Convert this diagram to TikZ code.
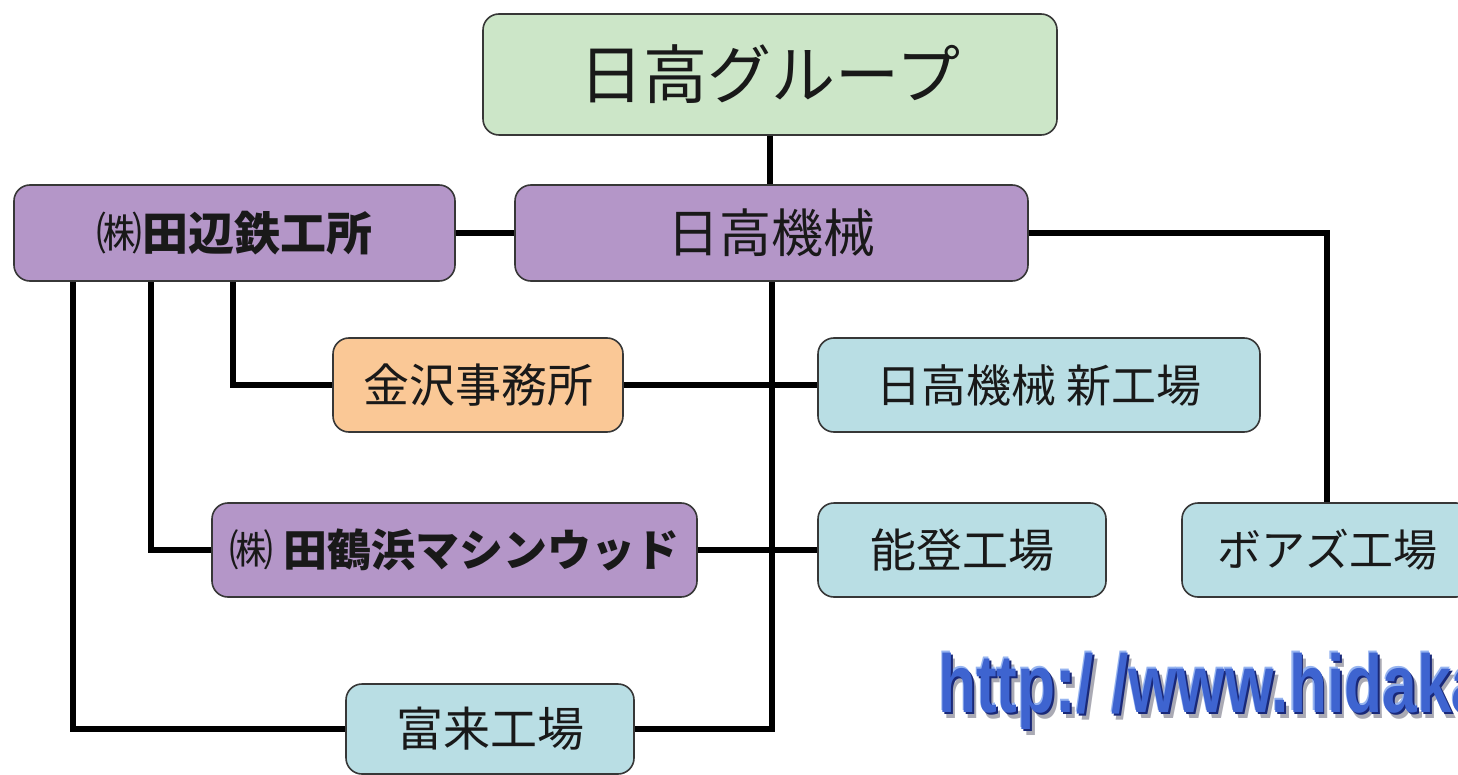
\documentclass[tikz,border=0pt]{standalone}
\usepackage{fontspec}
\setmainfont{Noto Sans CJK JP}
\newfontfamily\urlfont{Liberation Sans}
\usetikzlibrary{backgrounds}
\definecolor{grpfill}{RGB}{204,230,200}
\definecolor{purfill}{RGB}{180,150,200}
\definecolor{orgfill}{RGB}{250,200,150}
\definecolor{bluefill}{RGB}{185,222,228}
\definecolor{boxline}{RGB}{55,55,55}
\definecolor{urlblue}{RGB}{62,100,208}
\definecolor{urldark}{RGB}{25,40,120}
\definecolor{urllight}{RGB}{150,180,240}
\definecolor{urlshadow}{RGB}{170,170,180}
\newcommand{\urlstr}{http:/ /www.hidaka}
\newcommand{\layer}[4]{\makebox[0pt][l]{\hspace*{#1pt}\raisebox{#2pt}{\textcolor{#3}{#4}}}}
\begin{document}
\begin{tikzpicture}[x=1pt,y=-1pt,
  box/.style={draw=boxline, line width=1.6pt, rounded corners=16pt, inner sep=0pt, align=center, text=black!90},
  conn/.style={line width=6pt, black},
  jp/.style={font=\fontsize{#1}{#1}\selectfont},
  urltxt/.style={font=\urlfont\bfseries\fontsize{82}{82}\selectfont, xscale=0.76, anchor=base west, inner sep=0pt}]
\useasboundingbox (0,0) rectangle (1458,775);

\node[box, fill=grpfill, minimum width=574pt, minimum height=121pt, jp=64] (grp) at (770,74.5) {日高グループ};
\node[box, fill=purfill, minimum width=513pt, minimum height=96pt, jp=52] (kikai) at (771.5,233) {日高機械};
\node[box, fill=purfill, minimum width=441pt, minimum height=96pt, jp=46] (tanabe) at (234.5,233) {㈱\textbf{田辺鉄工所}};
\node[box, fill=orgfill, minimum width=290pt, minimum height=94pt, jp=46] (kanazawa) at (478,385) {金沢事務所};
\node[box, fill=bluefill, minimum width=442pt, minimum height=94pt, jp=45] (shin) at (1039,385) {日高機械 新工場};
\node[box, fill=purfill, minimum width=485pt, minimum height=94pt, jp=44] (tazuru) at (454.5,550) {㈱ \textbf{田鶴浜マシンウッド}};
\node[box, fill=bluefill, minimum width=288pt, minimum height=94pt, jp=46] (noto) at (962,550) {能登工場};
\node[box, fill=bluefill, minimum width=290pt, minimum height=94pt, jp=44] (boaz) at (1327,550) {ボアズ工場};
\node[box, fill=bluefill, minimum width=288pt, minimum height=90pt, jp=47] (fukura) at (490,729) {富来工場};

\coordinate (d1) at (73,281);
\coordinate (d2) at (151,281);
\coordinate (d3) at (233,281);

\begin{scope}[on background layer]
\fill[white] (0,0) rectangle (1458,775);
\draw[conn] (grp.south) -- (grp.south |- kikai.north);
\draw[conn] (tanabe.east) -- (kikai.west);
\draw[conn] (kikai.east) -| (boaz.north);
\draw[conn] (kikai.south) |- (fukura.east);
\draw[conn] (kanazawa.east) -- (shin.west);
\draw[conn] (tazuru.east) -- (noto.west);
\draw[conn] (d1) |- (fukura.west);
\draw[conn] (d2) |- (tazuru.west);
\draw[conn] (d3) |- (kanazawa.west);
\end{scope}

\begin{scope}
\clip (0,0) rectangle (1458,775);
\node[urltxt] (url) at (938,712) {\layer{6}{-6}{urlshadow}{\urlstr}\layer{-1.5}{1.5}{urllight}{\urlstr}\layer{2.5}{-2.5}{urldark}{\urlstr}\textcolor{urlblue}{\urlstr}};
\end{scope}
\end{tikzpicture}
\end{document}
